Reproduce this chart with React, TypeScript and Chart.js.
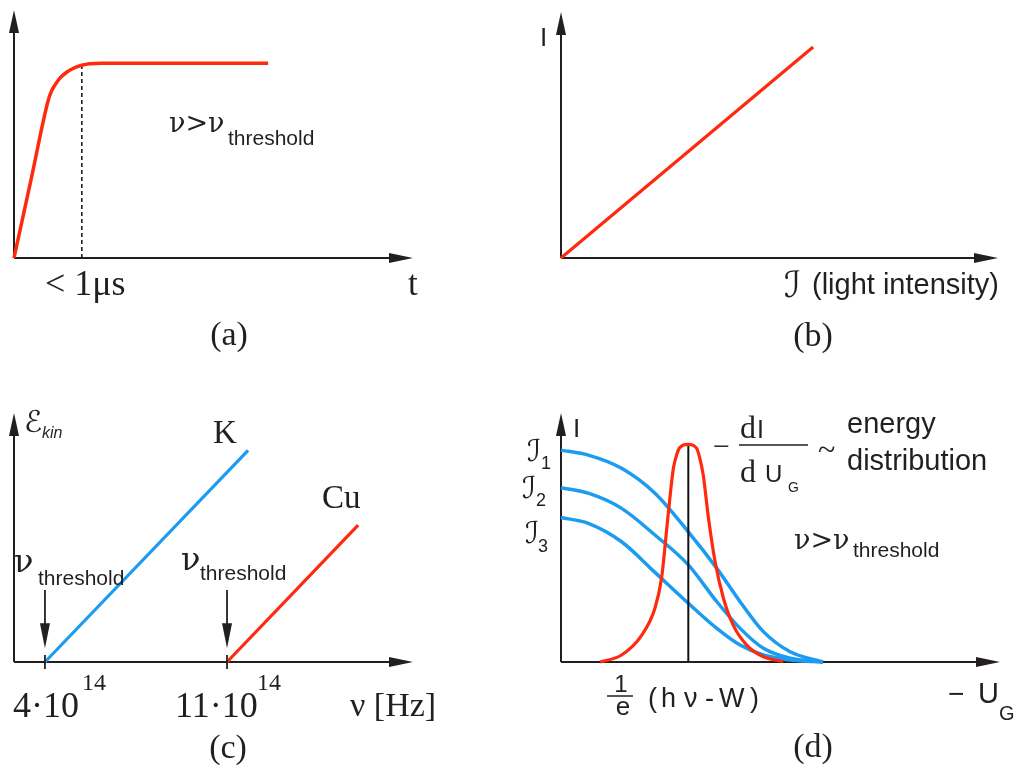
import React, { useEffect, useRef } from "react";
import { Chart, registerables } from "chart.js";
Chart.register(...registerables);

const W = 1017;
const H = 772;
const AX = "#231f20";
const RED = "#ff2a0e";
const BLUE = "#1b9cf0";
const SERIF = "'Liberation Serif', 'Times New Roman', serif";
const GREEK = "'DejaVu Serif', 'Liberation Serif', serif";
const SANS = "'Liberation Sans', Arial, sans-serif";
const SCRIPT = "'DejaVu Serif', 'DejaVu Sans', serif";

// (a) photocurrent vs time
const riseT = [0, 0.43, 0.86, 0.945, 1.03, 1.15, 1.32, 1.49, 1.7, 1.9, 2.2, 6.37];
const riseI = [0, 3.18, 6.37, 6.75, 6.98, 7.25, 7.49, 7.65, 7.77, 7.83, 7.85, 7.85];
const onsetT = 1.7;
const onsetI = 7.77;

// (b) photocurrent vs light intensity
const intensity = [0, 5.77];
const current = [0, 8.58];

// (c) kinetic energy vs frequency (10^14 Hz, eV)
const kNu = [4, 11.81];
const kE = [0, 3.23];
const cuNu = [11, 16.04];
const cuE = [0, 2.09];
const thresholds = [4, 11];
const thresholdLabels = ["4·10", "11·10"];

// (d) current vs retarding voltage
const ug = [0, 0.62, 1.38, 2.14, 2.9, 3.55, 4.08, 4.61, 5.22, 5.97];
const i1 = [8.51, 8.31, 7.78, 6.78, 5.23, 3.76, 2.42, 1.22, 0.41, 0];
const i2 = [7.0, 6.78, 6.17, 5.1, 3.9, 2.42, 1.35, 0.55, 0.15, 0];
const i3 = [5.8, 5.57, 4.83, 3.6, 2.36, 1.35, 0.68, 0.28, 0.08, 0];
const distU = [0.89, 1.38, 1.84, 2.14, 2.29, 2.44, 2.56, 2.64, 2.71, 2.9, 3.09, 3.16, 3.24, 3.36, 3.51, 3.7, 3.92, 4.23, 4.61, 5.06];
const distV = [0, 0.28, 1.08, 2.16, 3.36, 5.9, 7.78, 8.35, 8.62, 8.74, 8.58, 8.2, 7.51, 5.77, 4.03, 2.56, 1.49, 0.68, 0.21, 0.02];
const peakU = 2.9;
const peakV = 8.74;

const pts = (xs: number[], ys: number[]) => xs.map((x, i) => ({ x, y: ys[i] }));

function txt(ctx: CanvasRenderingContext2D, s: string, x: number, y: number, font: string, align: CanvasTextAlign = "left") {
  ctx.save();
  ctx.font = font;
  ctx.fillStyle = AX;
  ctx.textAlign = align;
  ctx.textBaseline = "alphabetic";
  ctx.fillText(s, x, y);
  ctx.restore();
}

function head(ctx: CanvasRenderingContext2D, tx: number, ty: number, dx: number, dy: number, len: number, half: number) {
  const bx = tx - dx * len, by = ty - dy * len;
  const px = -dy, py = dx;
  ctx.beginPath();
  ctx.moveTo(tx, ty);
  ctx.lineTo(bx + px * half, by + py * half);
  ctx.lineTo(bx - px * half, by - py * half);
  ctx.closePath();
  ctx.fill();
}

function drawAxes(chart: any) {
  const { ctx, chartArea: a } = chart;
  ctx.save();
  ctx.strokeStyle = AX;
  ctx.fillStyle = AX;
  ctx.lineWidth = 2;
  ctx.beginPath();
  ctx.moveTo(a.left, a.bottom);
  ctx.lineTo(a.left, a.top + 12);
  ctx.moveTo(a.left, a.bottom);
  ctx.lineTo(a.right - 12, a.bottom);
  ctx.stroke();
  head(ctx, a.left, a.top, 0, -1, 23, 5);
  head(ctx, a.right, a.bottom, 1, 0, 24, 5);
  ctx.restore();
}

function options(pad: any, xr: number[], yr: number[]) {
  return {
    responsive: false,
    animation: false,
    events: [],
    layout: { padding: pad },
    plugins: { legend: { display: false }, tooltip: { enabled: false }, title: { display: false } },
    scales: {
      x: { type: "linear", min: xr[0], max: xr[1], display: false },
      y: { type: "linear", min: yr[0], max: yr[1], display: false },
    },
    elements: { point: { radius: 0 } },
  };
}

function curve(data: any, color: string, width: number, smooth = true, extra: any = {}) {
  return {
    data,
    borderColor: color,
    borderWidth: width,
    fill: false,
    clip: false,
    pointRadius: 0,
    cubicInterpolationMode: smooth ? "monotone" : "default",
    tension: 0,
    borderCapStyle: "butt",
    borderJoinStyle: "round",
    ...extra,
  };
}

function makeA(canvas: HTMLCanvasElement) {
  return new Chart(canvas, {
    type: "line",
    data: {
      datasets: [
        curve(pts(riseT, riseI), RED, 3.5),
        curve(pts([onsetT, onsetT], [0, onsetI]), "#111", 1.5, false, { borderDash: [4, 3] }),
      ],
    },
    options: options({ left: 14, top: 10, right: W - 413, bottom: H - 258 }, [0, 10], [0, 10]) as any,
    plugins: [
      {
        id: "decoA",
        beforeDatasetsDraw: drawAxes,
        afterDatasetsDraw(chart: any) {
          const ctx = chart.ctx;
          txt(ctx, "ν>ν", 169, 132, `27px ${GREEK}`);
          txt(ctx, "threshold", 228, 145, `21px ${SANS}`);
          txt(ctx, "< 1μs", 45, 295, `36px ${SERIF}`);
          txt(ctx, "t", 408, 295, `35px ${SERIF}`);
          txt(ctx, "(a)", 229, 345, `34px ${SERIF}`, "center");
        },
      },
    ],
  });
}

function makeB(canvas: HTMLCanvasElement) {
  return new Chart(canvas, {
    type: "line",
    data: { datasets: [curve(pts(intensity, current), RED, 3.2, false)] },
    options: options({ left: 561, top: 12, right: W - 998, bottom: H - 258 }, [0, 10], [0, 10]) as any,
    plugins: [
      {
        id: "decoB",
        beforeDatasetsDraw: drawAxes,
        afterDatasetsDraw(chart: any) {
          const ctx = chart.ctx;
          txt(ctx, "I", 540, 46, `26px ${SANS}`);
          txt(ctx, "ℐ", 784, 297, `italic 36px ${SCRIPT}`);
          txt(ctx, "(light intensity)", 812, 294, `29px ${SANS}`);
          txt(ctx, "(b)", 813, 346, `34px ${SERIF}`, "center");
        },
      },
    ],
  });
}

function makeC(canvas: HTMLCanvasElement) {
  return new Chart(canvas, {
    type: "line",
    data: {
      datasets: [curve(pts(kNu, kE), BLUE, 3.2, false), curve(pts(cuNu, cuE), RED, 3.2, false)],
    },
    options: options({ left: 14, top: 413, right: W - 413, bottom: H - 662 }, [2.81, 18.15], [0, 3.8]) as any,
    plugins: [
      {
        id: "decoC",
        beforeDatasetsDraw: drawAxes,
        afterDatasetsDraw(chart: any) {
          const ctx = chart.ctx;
          const xs = chart.scales.x, ys = chart.scales.y;
          const base = ys.getPixelForValue(0);
          ctx.save();
          ctx.strokeStyle = AX;
          ctx.fillStyle = AX;
          ctx.lineWidth = 1.8;
          thresholds.forEach((t) => {
            const px = xs.getPixelForValue(t);
            ctx.beginPath();
            ctx.moveTo(px, base - 7);
            ctx.lineTo(px, base + 7);
            ctx.stroke();
            const top = ys.getPixelForValue(1.1);
            const tip = ys.getPixelForValue(0.21);
            ctx.beginPath();
            ctx.moveTo(px, top);
            ctx.lineTo(px, tip - 20);
            ctx.stroke();
            head(ctx, px, tip, 0, 1, 25, 5);
          });
          ctx.restore();
          txt(ctx, "ℰ", 24, 432, `italic 30px ${SCRIPT}`);
          txt(ctx, "kin", 42, 438, `italic 16px ${SANS}`);
          txt(ctx, "K", 213, 443, `33px ${SERIF}`);
          txt(ctx, "Cu", 322, 508, `33px ${SERIF}`);
          txt(ctx, "ν", 14, 572, `32px ${GREEK}`);
          txt(ctx, "threshold", 38, 585, `21px ${SANS}`);
          txt(ctx, "ν", 181, 570, `32px ${GREEK}`);
          txt(ctx, "threshold", 200, 580, `21px ${SANS}`);
          txt(ctx, thresholdLabels[0], 13, 717, `36px ${SERIF}`);
          txt(ctx, "14", 82, 690, `24px ${SERIF}`);
          txt(ctx, thresholdLabels[1], 175, 717, `36px ${SERIF}`);
          txt(ctx, "14", 257, 690, `24px ${SERIF}`);
          txt(ctx, "ν [Hz]", 350, 716, `34px ${SERIF}`);
          txt(ctx, "(c)", 228, 758, `34px ${SERIF}`, "center");
        },
      },
    ],
  });
}

function makeD(canvas: HTMLCanvasElement) {
  return new Chart(canvas, {
    type: "line",
    data: {
      datasets: [
        curve(pts(distU, distV), RED, 3.2),
        curve(pts([peakU, peakU], [0, peakV]), "#111", 2, false),
        curve(pts(ug, i1), BLUE, 3.5),
        curve(pts(ug, i2), BLUE, 3.5),
        curve(pts(ug, i3), BLUE, 3.5),
      ],
    },
    options: options({ left: 561, top: 413, right: W - 1000, bottom: H - 662 }, [0, 10], [0, 10]) as any,
    plugins: [
      {
        id: "decoD",
        beforeDatasetsDraw: drawAxes,
        afterDatasetsDraw(chart: any) {
          const ctx = chart.ctx;
          txt(ctx, "I", 573, 437, `26px ${SANS}`);
          txt(ctx, "ℐ", 527, 461, `italic 30px ${SCRIPT}`);
          txt(ctx, "1", 541, 469, `18px ${SANS}`);
          txt(ctx, "ℐ", 522, 498, `italic 30px ${SCRIPT}`);
          txt(ctx, "2", 536, 506, `18px ${SANS}`);
          txt(ctx, "ℐ", 525, 543, `italic 30px ${SCRIPT}`);
          txt(ctx, "3", 538, 552, `18px ${SANS}`);
          // -dI/dU_G
          txt(ctx, "−", 713, 456, `30px ${SERIF}`);
          txt(ctx, "d", 740, 438, `32px ${SERIF}`);
          txt(ctx, "I", 757, 438, `25px ${SANS}`);
          ctx.save();
          ctx.strokeStyle = AX;
          ctx.lineWidth = 1.5;
          ctx.beginPath();
          ctx.moveTo(739, 445);
          ctx.lineTo(808, 445);
          ctx.stroke();
          ctx.restore();
          txt(ctx, "d", 740, 482, `32px ${SERIF}`);
          txt(ctx, "U", 765, 482, `24px ${SANS}`);
          txt(ctx, "G", 788, 492, `14px ${SANS}`);
          txt(ctx, "~", 818, 460, `32px ${SERIF}`);
          txt(ctx, "energy", 847, 433, `29px ${SANS}`);
          txt(ctx, "distribution", 847, 470, `29px ${SANS}`);
          txt(ctx, "ν>ν", 794, 549, `27px ${GREEK}`);
          txt(ctx, "threshold", 853, 557, `21px ${SANS}`);
          // 1/e (h ν - W)
          txt(ctx, "1", 621, 692, `24px ${SANS}`, "center");
          ctx.save();
          ctx.strokeStyle = AX;
          ctx.lineWidth = 1.5;
          ctx.beginPath();
          ctx.moveTo(607, 696);
          ctx.lineTo(633, 696);
          ctx.stroke();
          ctx.restore();
          txt(ctx, "e", 623, 715, `26px ${SANS}`, "center");
          txt(ctx, "(", 648, 707, `27px ${SANS}`);
          txt(ctx, "h", 661, 707, `27px ${SANS}`);
          txt(ctx, "ν", 684, 707, `27px ${SANS}`);
          txt(ctx, "-", 705, 707, `27px ${SANS}`);
          txt(ctx, "W", 719, 707, `27px ${SANS}`);
          txt(ctx, ")", 750, 707, `27px ${SANS}`);
          txt(ctx, "−", 948, 703, `28px ${SANS}`);
          txt(ctx, "U", 978, 703, `29px ${SANS}`);
          txt(ctx, "G", 999, 720, `20px ${SANS}`);
          txt(ctx, "(d)", 813, 757, `34px ${SERIF}`, "center");
        },
      },
    ],
  });
}

export default function App() {
  const ra = useRef<HTMLCanvasElement>(null);
  const rb = useRef<HTMLCanvasElement>(null);
  const rc = useRef<HTMLCanvasElement>(null);
  const rd = useRef<HTMLCanvasElement>(null);
  useEffect(() => {
    const charts = [makeA(ra.current!), makeB(rb.current!), makeC(rc.current!), makeD(rd.current!)];
    return () => charts.forEach((c) => c.destroy());
  }, []);
  const cs: React.CSSProperties = { position: "absolute", left: 0, top: 0, width: W, height: H };
  return (
    <div style={{ position: "absolute", left: 0, top: 0, width: W, height: H, background: "#fff", overflow: "hidden" }}>
      <canvas ref={ra} width={W} height={H} style={cs} />
      <canvas ref={rb} width={W} height={H} style={cs} />
      <canvas ref={rc} width={W} height={H} style={cs} />
      <canvas ref={rd} width={W} height={H} style={cs} />
    </div>
  );
}
